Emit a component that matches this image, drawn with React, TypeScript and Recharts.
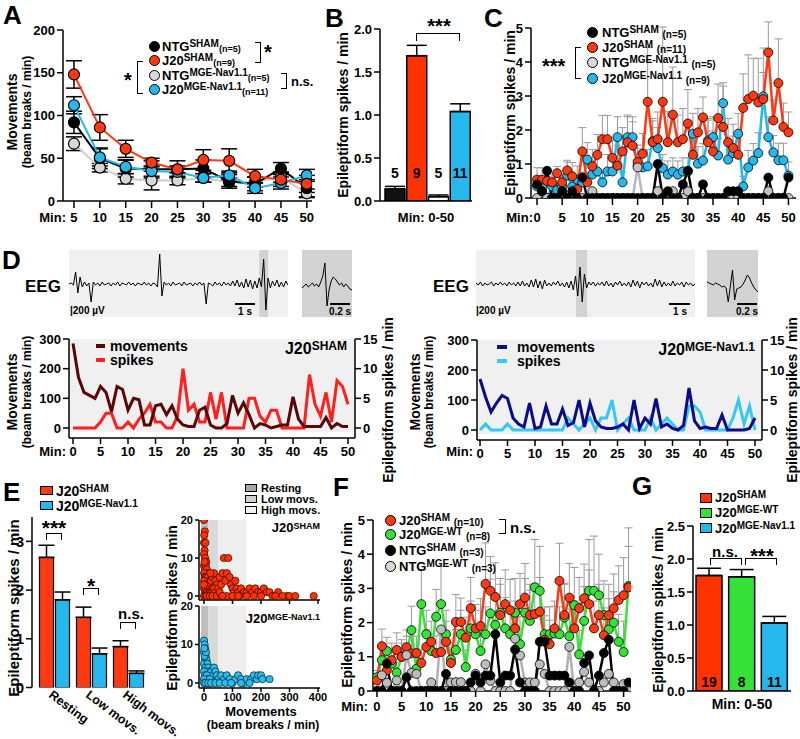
import React from 'react'
import {
  LineChart, Line, BarChart, Bar, ScatterChart, Scatter, XAxis, YAxis,
  ErrorBar, Cell, LabelList, ReferenceArea,
} from 'recharts'

const FONT = '"Liberation Sans", Arial, Helvetica, sans-serif'
const RED = '#ff3a12'
const BLUE = '#25b8ec'
const LGRAY = '#d8d8d8'
const GREEN = '#36e236'

const range = (n: number) => Array.from({ length: n }, (_, i) => i)

// ---------- A: movements per 5 min
const minA = [5, 10, 15, 20, 25, 30, 35, 40, 45, 50]
const ntgShamA = [92, 50, 38, 37, 37, 38, 23, 20, 38, 15]
const j20ShamA = [148, 86, 61, 45, 37, 48, 47, 29, 25, 20]
const ntgMgeA = [67, 39, 26, 24, 24, 27, 22, 22, 28, 9]
const j20MgeA = [112, 51, 40, 35, 34, 27, 30, 15, 21, 30]
const ntgShamErrA = [13, 12, 10, 10, 10, 10, 8, 8, 7, 10]
const j20ShamErrA = [16, 15, 10, 5, 4, 12, 14, 8, 8, 10]
const ntgMgeErrA = [8, 5, 6, 11, 5, 5, 5, 6, 6, 5]
const j20MgeErrA = [10, 10, 8, 6, 6, 5, 5, 6, 7, 7]

// ---------- B: spikes 0-50 min
const groupsB = ['NTG SHAM', 'J20 SHAM', 'NTG MGE-Nav1.1', 'J20 MGE-Nav1.1']
const spikesB = [0.14, 1.69, 0.05, 1.04]
const errB = [0.03, 0.12, 0.02, 0.09]
const nB = [5, 9, 5, 11]
const colorsB = ['#111111', '#ff3300', '#ffffff', BLUE]

// ---------- C: spikes per minute
const minC = range(51)
const ntgShamC = [0.4, 0.2, 0.8, 0, 0, 0.2, 0, 0.2, 0, 0.6, 0, 0, 0, 0, 0, 0, 0, 0, 0, 0, 0, 0, 0, 0, 1.0, 0, 0.2, 0, 0, 0.4, 0.8, 0, 0, 0.4, 0, 0, 0, 0, 0.2, 0.2, 0.2, 0, 0, 0, 0, 0, 0.6, 0, 0, 0, 0.6]
const j20ShamC = [0.54, 0.54, 0.5, 0.46, 0.73, 0.46, 0.81, 0.64, 0.26, 1.37, 0.46, 0.93, 1.27, 1.73, 1.73, 1.18, 0.95, 1.37, 1.64, 1.54, 1.06, 1.3, 2.83, 1.64, 1.73, 2.83, 1.64, 2.45, 1.64, 1.73, 2.19, 1.27, 1.93, 2.37, 1.64, 1.37, 2.35, 2.09, 1.64, 1.47, 1.27, 2.65, 2.91, 3.01, 2.81, 2.91, 4.28, 2.28, 3.38, 2.09, 1.93]
const ntgMgeC = [0, 0.2, 0, 0, 0, 0, 0, 0, 0, 0, 0, 0.2, 0, 0, 0, 0, 0, 0, 0, 0, 0.9, 0, 0, 0, 0.2, 0, 0, 0.2, 0, 0, 0.2, 0, 0, 0, 0, 0, 0, 0, 0, 0, 0, 0, 0, 0, 0, 0, 0.2, 0, 0, 0, 0]
const j20MgeC = [0.34, 0.34, 0, 0.34, 0.23, 0.34, 0.66, 0.34, 0.54, 0.46, 1.13, 0.69, 0.78, 0.46, 0.78, 0.78, 1.79, 0.46, 1.79, 1.79, 0.95, 0.9, 0.93, 1.67, 1.47, 0.88, 0.69, 0.78, 0.69, 0.78, 0.78, 1.89, 1.01, 1.1, 1.69, 1.79, 1.25, 2.79, 1.13, 1.32, 1.89, 0.34, 0.9, 1.1, 1.32, 2.99, 1.79, 1.34, 1.11, 1.11, 0.66]
const j20ShamErrC = [0.35, 0.35, 0.3, 0.25, 0.2, 0.2, 0.3, 0.4, 0.2, 0.7, 0.3, 0.5, 0.6, 0.7, 0.7, 0.5, 0.6, 0.7, 0.8, 0.7, 0.5, 0.6, 1.6, 0.7, 0.8, 2.2, 0.9, 1.4, 0.8, 0.9, 1.0, 0.6, 0.7, 0.6, 0.7, 0.6, 1.0, 1.2, 0.7, 0.7, 0.6, 1.0, 1.3, 1.1, 1.3, 1.5, 0.9, 0.6, 1.3, 0.7, 0.6]
const j20MgeErrC = [0.3, 0.3, 0.1, 0.3, 0.2, 0.3, 0.4, 0.3, 0.4, 0.3, 0.5, 0.4, 0.4, 0.3, 0.5, 0.4, 0.6, 0.3, 0.6, 0.6, 0.5, 0.5, 0.5, 0.6, 0.6, 0.4, 0.4, 0.4, 0.4, 0.4, 0.4, 0.6, 0.5, 0.5, 0.6, 0.6, 0.5, 0.6, 0.5, 0.5, 0.6, 0.3, 0.5, 0.5, 0.6, 0.7, 0.6, 0.5, 0.5, 0.5, 0.4]

// ---------- D: EEG traces and single-mouse time courses
const eegSham = [0, 1, -1, 12, -9, 7, -3, 2, -2, 1, -18, 2, -1, 1, -2, 2, -1, 0, 1, -2, 1, -1, 2, -2, 1, 0, -1, 2, -1, 1, -2, 1, 0, -1, 2, -1, 1, -2, 1, 0, -3, 30, -12, 2, -1, 1, -2, 2, -1, 0, 1, -2, 2, -1, 0, 1, -2, 1, -1, 2, -1, 1, -20, 1, 0, -2, 2, -1, 1, -2, 2, -1, 1, -2, 3, -2, 4, -3, 2, -4, 5, -3, 4, -5, 3, -4, 6, -3, 25, -26, 6, -4, 3, -2, 4, -3, 2, -3, 3, -1]
const eegShamZoom = [-4, -2, 0, -3, -1, 1, -2, 0, -3, 2, 8, 21, -22, -6, 3, 7, 5, 2, -1, 1, -3, 0, -2, -5, -6]
const eegMge = [1, -1, 2, -2, 1, -1, 0, 2, -2, 1, -1, 2, -1, 1, -2, 2, -1, 1, -2, 2, -2, 3, -2, 1, -3, 4, -3, 5, -4, 3, -5, 4, -2, 1, -2, 2, -1, 3, -2, 1, -3, 2, -4, 3, -6, 8, -12, 17, -18, 10, -4, 2, -1, 2, -2, 1, -1, 2, -2, 3, -2, 1, -3, 2, -1, 3, -2, 1, -2, 2, -3, 4, -2, 3, -4, 2, -1, 2, -2, 1, -3, 5, -2, 4, -3, 2, -2, 1, -2, 3, -2, 1, -1, 2, -3, 2, -1, 1, -2, 0]
const eegMgeZoom = [2, 1, 0, -1, 1, 0, -1, -3, -2, -4, -18, -2, 14, -16, -5, -4, -3, 0, 4, 9, 6, 1, -3, -6, -8]

const minD = range(51)
const shamMovD = [285, 170, 120, 110, 100, 140, 120, 55, 140, 130, 60, 100, 95, 10, 10, 75, 80, 45, 75, 30, 10, 5, 5, 60, 70, 10, 0, 0, 15, 110, 50, 85, 45, 0, 15, 10, 0, 5, 10, 10, 105, 30, 5, 5, 5, 5, 35, 0, 15, 5, 5]
const shamSpkD = [0, 0, 0, 0, 0, 1, 2.5, 2.5, 0, 0, 1, 0, 1.5, 2.5, 4, 1, 1, 0, 0, 2, 10, 3, 4, 1, 1, 6, 1.5, 6, 0, 0, 0, 0, 5, 5, 2, 1, 3, 3, 0, 0, 0, 0, 0, 9, 4, 2, 6, 1, 8, 7, 4]
const mgeMovD = [170, 110, 60, 90, 115, 105, 40, 20, 10, 90, 5, 10, 80, 20, 20, 70, 15, 25, 100, 10, 90, 30, 10, 5, 5, 10, 20, 0, 100, 5, 40, 20, 105, 10, 20, 5, 0, 15, 140, 30, 5, 10, 5, 5, 50, 0, 0, 0, 0, 5, 40]
const mgeSpkD = [0, 1, 0, 0, 0, 1, 0, 0, 0, 0, 0, 0, 0, 0, 0, 0, 2, 1, 0, 1, 2, 0, 2, 2, 5, 0, 1, 2, 0, 0, 0, 2, 0, 1, 2, 1, 0, 0, 4, 4, 3, 0, 0, 0, 0, 0, 2, 5, 1, 4, 0]

// ---------- E: spikes by activity state
const catsE = ['Resting', 'Low movs.', 'High movs.']
const j20ShamE = [2.67, 1.44, 0.84]
const j20MgeE = [1.8, 0.69, 0.29]
const j20ShamErrE = [0.25, 0.21, 0.12]
const j20MgeErrE = [0.16, 0.12, 0.05]

const shamMovE = [0, 3, 0, 5, 2, 0, 4, 8, 0, 3, 6, 10, 12, 0, 2, 5, 9, 14, 18, 0, 4, 7, 11, 16, 20, 25, 30, 35, 40, 45, 22, 28, 0, 3, 6, 10, 15, 20, 25, 30, 35, 40, 50, 55, 60, 65, 70, 85, 75, 80, 90, 95, 100, 105, 110, 115, 120, 130, 140, 150, 160, 170, 180, 190, 200, 210, 220, 230, 240, 260, 290, 300, 320, 385, 0, 5, 10, 20, 30, 45, 60, 80, 100, 125, 150, 175, 200, 250, 275, 0, 2, 1, 55, 65, 120]
const shamSpkE = [20, 17, 14, 14, 12, 11, 10, 9, 8, 7, 8, 7, 6, 6, 5, 5, 5, 5, 4, 4, 3, 3, 3, 3, 3, 4, 5, 6, 4, 3, 6, 2, 2, 1, 2, 1, 1, 1, 1, 1, 2, 1, 2, 5, 3, 6, 10, 10, 4, 6, 5, 3, 2, 1, 4, 2, 1, 2, 1, 1, 2, 1, 2, 1, 1, 2, 1, 1, 0, 1, 0, 0, 0, 0, 0, 0, 0, 0, 0, 0, 0, 0, 0, 0, 0, 0, 0, 0, 0, 3, 9, 16, 1, 0, 0]
const mgeMovE = [0, 2, 4, 0, 6, 3, 9, 0, 12, 5, 15, 20, 8, 0, 25, 30, 35, 40, 45, 50, 3, 10, 15, 0, 20, 60, 70, 80, 90, 100, 110, 120, 130, 140, 150, 165, 175, 185, 190, 200, 205, 230, 0, 5, 15, 25, 40, 55, 75, 95, 130, 160, 2, 7, 1]
const mgeSpkE = [11, 10, 9, 8, 7, 6, 6, 5, 5, 4, 4, 3, 3, 3, 3, 2, 4, 3, 2, 1, 2, 2, 1, 1, 1, 2, 1, 2, 1, 0, 1, 2, 1, 0, 1, 1, 2, 1, 2, 2, 1, 1, 0, 0, 0, 0, 0, 0, 0, 0, 0, 0, 7, 8, 9]

// ---------- F: MGE-WT control
const minF = range(52)
const j20ShamF = [0.31, 1.31, 0.6, 0.9, 1.2, 1.0, 1.28, 1.1, 1.11, 0.82, 1.29, 1.44, 1.11, 1.14, 1.44, 0.82, 2.02, 2.02, 1.56, 2.42, 1.83, 1.9, 3.13, 2.93, 2.75, 2.22, 2.54, 2.36, 1.83, 2.54, 2.73, 2.22, 2.25, 2.32, 1.5, 1.37, 1.83, 3.22, 2.22, 2.73, 1.83, 2.42, 2.71, 2.54, 1.83, 2.22, 1.63, 2.22, 2.42, 2.66, 2.8, 3.03]
const j20WtF = [0.4, 0.9, 1.17, 0.8, 0.54, 1.0, 1.1, 1.78, 0.65, 2.54, 1.66, 1.17, 2.17, 2.54, 1.66, 0.92, 1.2, 1.66, 0.7, 1.83, 1.66, 1.17, 1.66, 2.27, 1.93, 2.29, 1.83, 1.66, 2.29, 1.37, 2.29, 2.05, 3.03, 2.93, 1.66, 1.66, 1.68, 1.66, 2.15, 1.6, 2.51, 1.07, 2.05, 2.93, 2.93, 2.8, 2.22, 1.8, 2.0, 1.44, 1.14, 3.07]
const ntgShamF = [0, 0, 0.8, 0, 0, 0, 0.4, 0, 0, 0, 0, 0, 0, 0, 0.5, 0, 0, 0, 0, 0.25, 0.45, 0.25, 0.45, 0.45, 1.66, 0.25, 0.45, 0.45, 1.21, 0.25, 0, 0, 0, 1.44, 1.44, 0.45, 0.45, 0.45, 0.45, 0.25, 0, 0, 0.82, 1.04, 0, 0.45, 1.11, 1.5, 0, 0, 0, 0.25]
const ntgWtF = [0, 0.46, 0.24, 0, 0.31, 0, 1.05, 0.53, 0.5, 0, 0, 0.25, 0, 1.8, 0, 0.25, 0.26, 0.26, 0, 0, 0.5, 0, 0.78, 0.3, 0, 0, 0, 0, 1.53, 1.04, 0.25, 0.25, 0.25, 0.78, 0.5, 0, 0, 0, 0, 1.29, 0, 0.25, 0.56, 0.25, 0, 0, 0.25, 0.5, 0.25, 0, 0.2, 0]
const j20ShamErrF = [0.2, 0.5, 0.4, 0.5, 0.5, 0.4, 0.5, 0.5, 0.5, 0.4, 0.5, 0.6, 0.5, 0.5, 0.6, 0.4, 0.8, 0.7, 0.6, 0.9, 0.7, 0.8, 1.2, 1.0, 1.0, 0.9, 1.0, 0.9, 0.8, 0.9, 1.0, 0.9, 0.9, 1.0, 0.7, 0.7, 0.8, 1.1, 0.9, 1.0, 0.8, 0.9, 1.0, 1.0, 0.8, 0.9, 0.8, 0.9, 1.0, 1.0, 1.1, 1.2]
const j20WtErrF = [0.2, 0.4, 0.4, 0.4, 0.3, 0.5, 0.5, 0.7, 0.4, 1.0, 0.7, 0.5, 0.8, 1.1, 0.7, 0.5, 0.6, 0.7, 0.5, 0.8, 0.7, 0.6, 0.8, 1.0, 0.9, 1.0, 0.9, 0.8, 1.0, 0.8, 1.0, 0.9, 1.4, 1.3, 0.8, 0.8, 0.8, 0.8, 1.0, 0.8, 1.1, 0.7, 1.0, 1.5, 1.6, 1.2, 1.0, 0.9, 0.9, 0.8, 0.9, 1.7]

// ---------- G
const groupsG = ['J20 SHAM', 'J20 MGE-WT', 'J20 MGE-Nav1.1']
const spikesG = [1.75, 1.73, 1.03]
const errG = [0.11, 0.11, 0.1]
const nG = [19, 8, 11]
const colorsG = ['#ff3300', GREEN, BLUE]

// ---------- helpers
const AX = { stroke: '#000', strokeWidth: 1.5 }
const TK = { fontSize: 13, fontWeight: 700, fill: '#000', fontFamily: FONT }
const TKs = { fontSize: 11, fontWeight: 700, fill: '#000', fontFamily: FONT }

function frame(x0: number, y0: number, x1: number, y1: number, yl: number, yr: number, xh: number, pad = 10, padR = 10) {
  return {
    left: x0 - yl - pad,
    top: y0 - pad,
    width: x1 - x0 + yl + yr + pad + padR,
    height: y1 - y0 + xh + 2 * pad,
    margin: { top: pad, right: padR, bottom: pad, left: pad },
  }
}

function Txt({ x, y, size = 13, anchor = 'start', color = '#000', children }: any) {
  const tx = anchor === 'middle' ? '-50%' : anchor === 'end' ? '-100%' : '0'
  return (
    <div style={{ position: 'absolute', left: x, top: y, transform: `translate(${tx}, -50%)`, fontSize: size, fontWeight: 700, color, fontFamily: FONT, whiteSpace: 'nowrap', lineHeight: 1 }}>
      {children}
    </div>
  )
}

function VTxt({ x, y, size = 14, children }: any) {
  return (
    <div style={{ position: 'absolute', left: x, top: y, transform: 'translate(-50%, -50%) rotate(-90deg)', fontSize: size, fontWeight: 700, fontFamily: FONT, whiteSpace: 'nowrap', lineHeight: 1 }}>
      {children}
    </div>
  )
}

const Sup = ({ s = 9, children }: any) => <span style={{ fontSize: s, position: 'relative', top: -s * 0.36 }}>{children}</span>
const Sub = ({ s = 9, children }: any) => <span style={{ fontSize: s, position: 'relative', top: s * 0.1 }}>{children}</span>

const Dot = ({ x, y, fill, r = 5.5 }: any) => (
  <div style={{ position: 'absolute', left: x - r, top: y - r, width: 2 * r, height: 2 * r, borderRadius: '50%', background: fill, border: '1.2px solid #000', boxSizing: 'border-box' }} />
)
const Box = ({ x, y, fill, w = 12, h = 9 }: any) => (
  <div style={{ position: 'absolute', left: x, top: y, width: w, height: h, background: fill, border: '1.2px solid #000', boxSizing: 'border-box' }} />
)
// sides: which borders to draw
const Brk = ({ x, y, w, h, sides }: any) => (
  <div style={{
    position: 'absolute', left: x, top: y, width: w, height: h, boxSizing: 'border-box',
    borderTop: sides.includes('t') ? '1.5px solid #000' : 'none',
    borderBottom: sides.includes('b') ? '1.5px solid #000' : 'none',
    borderLeft: sides.includes('l') ? '1.5px solid #000' : 'none',
    borderRight: sides.includes('r') ? '1.5px solid #000' : 'none',
  }} />
)
const Bar2 = ({ x, y, w }: any) => <div style={{ position: 'absolute', left: x, top: y, width: w, height: 2, background: '#000' }} />

const at = (f: any) => ({ position: 'absolute' as const, left: f.left, top: f.top })

// ---------- Panel A
const fA = frame(63, 30, 312, 201, 45, 0, 30)
const dataA = minA.map((t, i) => ({
  t, ntgS: ntgShamA[i], j20S: j20ShamA[i], ntgM: ntgMgeA[i], j20M: j20MgeA[i],
  ntgSE: ntgShamErrA[i], j20SE: j20ShamErrA[i], ntgME: ntgMgeErrA[i], j20ME: j20MgeErrA[i],
}))

function PanelA() {
  const line = (key: string, err: string, stroke: string, fill: string) => (
    <Line dataKey={key} stroke={stroke} strokeWidth={2} type="linear" isAnimationActive={false}
      dot={{ r: 5.5, fill, stroke: '#000', strokeWidth: 1.2 }}>
      <ErrorBar dataKey={err} direction="y" width={8} stroke="#000" strokeWidth={1.5} />
    </Line>
  )
  return (
    <>
      <Txt x={3} y={15} size={26}>A</Txt>
      <VTxt x={12} y={112} size={14}>Movements</VTxt>
      <VTxt x={27} y={112} size={12}>(beam breaks / min)</VTxt>
      <Txt x={66} y={217} anchor="end">Min:</Txt>
      <div style={at(fA)}>
        <LineChart width={fA.width} height={fA.height} margin={fA.margin} data={dataA}>
          <XAxis type="number" dataKey="t" domain={[2.88, 51]} ticks={minA} allowDataOverflow height={30} interval={0}
            axisLine={AX} tickLine={AX} tickSize={7} tickMargin={5} tick={TK} />
          <YAxis type="number" domain={[0, 200]} ticks={[0, 50, 100, 150, 200]} allowDataOverflow width={45} interval={0}
            axisLine={AX} tickLine={AX} tickSize={6} tickMargin={2} tick={TK} />
          {line('ntgM', 'ntgME', '#cccccc', LGRAY)}
          {line('ntgS', 'ntgSE', '#000', '#000')}
          {line('j20M', 'j20ME', BLUE, BLUE)}
          {line('j20S', 'j20SE', RED, RED)}
        </LineChart>
      </div>
      <Dot x={154} y={46} fill="#000" />
      <Dot x={154} y={60} fill={RED} />
      <Dot x={154} y={75} fill={LGRAY} />
      <Dot x={154} y={89} fill={BLUE} />
      <Txt x={162} y={46}>NTG<Sup s={10}>SHAM</Sup><Sub>(n=5)</Sub></Txt>
      <Txt x={162} y={60}>J20<Sup s={10}>SHAM</Sup><Sub>(n=9)</Sub></Txt>
      <Txt x={162} y={75}>NTG<Sup s={10}>MGE-Nav1.1</Sup><Sub>(n=5)</Sub></Txt>
      <Txt x={162} y={89}>J20<Sup s={10}>MGE-Nav1.1</Sup><Sub>(n=11)</Sub></Txt>
      <Brk x={255} y={42} w={6} h={21} sides="tbr" />
      <Txt x={264} y={52} size={20}>*</Txt>
      <Brk x={137} y={61} w={6} h={33} sides="tbl" />
      <Txt x={124} y={80} size={20}>*</Txt>
      <Brk x={281} y={73} w={6} h={16} sides="tbr" />
      <Txt x={291} y={81}>n.s.</Txt>
    </>
  )
}

// ---------- Panel B
const fB = frame(380, 29, 472, 201, 40, 0, 4)
const dataB = groupsB.map((g, i) => ({ g, v: spikesB[i], e: [0, errB[i]], n: nB[i] }))
const nLabel = (up: number) => (p: any) => (
  <text x={p.x + p.width / 2} y={p.y + p.height - up} textAnchor="middle" dominantBaseline="central"
    style={{ fontSize: 14, fontWeight: 700, fontFamily: FONT }} fill="#000">{p.value}</text>
)

function PanelB() {
  return (
    <>
      <Txt x={325} y={18} size={26}>B</Txt>
      <VTxt x={343} y={115} size={14}>Epileptiform spikes / min</VTxt>
      <div style={at(fB)}>
        <BarChart width={fB.width} height={fB.height} margin={fB.margin} data={dataB} barSize={20}>
          <XAxis dataKey="g" axisLine={AX} tickLine={false} tick={false} height={4} padding={{ left: 4, right: 1 }} />
          <YAxis type="number" domain={[0, 2]} ticks={[0, 0.5, 1, 1.5, 2]} allowDataOverflow width={40} interval={0}
            tickFormatter={(v: number) => v.toFixed(1)} axisLine={AX} tickLine={AX} tickSize={6} tickMargin={2} tick={TK} />
          <Bar dataKey="v" stroke="#000" strokeWidth={1.5} isAnimationActive={false}>
            {dataB.map((_, i) => <Cell key={i} fill={colorsB[i]} />)}
            <ErrorBar dataKey="e" direction="y" width={10} stroke="#000" strokeWidth={1.5} />
            <LabelList dataKey="n" content={nLabel(28)} />
          </Bar>
        </BarChart>
      </div>
      <Brk x={416} y={33} w={44} h={8} sides="tlr" />
      <Txt x={439} y={26} size={20} anchor="middle">***</Txt>
      <Txt x={426} y={217} anchor="middle">Min: 0-50</Txt>
    </>
  )
}

// ---------- Panel C
const fC = frame(531, 28, 796, 198, 30, 0, 30)
const dataC = minC.map((t, i) => ({
  t, ntgS: ntgShamC[i], j20S: j20ShamC[i], ntgM: ntgMgeC[i], j20M: j20MgeC[i],
  j20SE: [0, j20ShamErrC[i]], j20ME: [0, j20MgeErrC[i]],
}))
const ticks50 = [0, 5, 10, 15, 20, 25, 30, 35, 40, 45, 50]

function PanelC() {
  const dot = (fill: string) => ({ r: 4.5, fill, stroke: '#000', strokeWidth: 0.8 })
  return (
    <>
      <Txt x={484} y={18} size={26}>C</Txt>
      <VTxt x={510} y={113} size={14}>Epileptiform spikes / min</VTxt>
      <Txt x={533} y={217} anchor="end">Min:</Txt>
      <div style={at(fC)}>
        <LineChart width={fC.width} height={fC.height} margin={fC.margin} data={dataC}>
          <XAxis type="number" dataKey="t" domain={[-1.2, 51.5]} ticks={ticks50} allowDataOverflow height={30} interval={0}
            axisLine={AX} tickLine={AX} tickSize={7} tickMargin={8} tick={TK} />
          <YAxis type="number" domain={[0, 5]} ticks={[0, 1, 2, 3, 4, 5]} allowDataOverflow width={30} interval={0}
            axisLine={AX} tickLine={AX} tickSize={6} tickMargin={2} tick={TK} />
          <Line dataKey="j20M" stroke={BLUE} strokeWidth={2.5} type="linear" isAnimationActive={false} dot={dot(BLUE)}>
            <ErrorBar dataKey="j20ME" direction="y" width={4} stroke="#9a9a9a" strokeWidth={1} />
          </Line>
          <Line dataKey="j20S" stroke={RED} strokeWidth={2.5} type="linear" isAnimationActive={false} dot={dot(RED)}>
            <ErrorBar dataKey="j20SE" direction="y" width={4} stroke="#9a9a9a" strokeWidth={1} />
          </Line>
          <Line dataKey="ntgM" stroke="#b8b8b8" strokeWidth={2.5} type="linear" isAnimationActive={false} dot={dot('#c4c4c4')} />
          <Line dataKey="ntgS" stroke="#000" strokeWidth={2.5} type="linear" isAnimationActive={false} dot={dot('#000')} />
        </LineChart>
      </div>
      <Dot x={592} y={32} fill="#000" />
      <Dot x={592} y={47} fill={RED} />
      <Dot x={592} y={62} fill={LGRAY} />
      <Dot x={592} y={78} fill={BLUE} />
      <Txt x={602} y={32}>NTG<Sup s={10}>SHAM</Sup> <Sub s={10}>(n=5)</Sub></Txt>
      <Txt x={602} y={47}>J20<Sup s={10}>SHAM</Sup> <Sub s={10}>(n=11)</Sub></Txt>
      <Txt x={602} y={62}>NTG<Sup s={10}>MGE-Nav1.1</Sup> <Sub s={10}>(n=5)</Sub></Txt>
      <Txt x={602} y={78}>J20<Sup s={10}>MGE-Nav1.1</Sup> <Sub s={10}>(n=9)</Sub></Txt>
      <Brk x={575} y={47} w={6} h={32} sides="tbl" />
      <Txt x={542} y={66} size={20}>***</Txt>
    </>
  )
}

// ---------- Panel D
function Trace({ x, y, w, h, vals, bg, band }: any) {
  const data = vals.map((v: number, i: number) => ({ i, v }))
  return (
    <div style={{ position: 'absolute', left: x, top: y, width: w, height: h, background: bg }}>
      <LineChart width={w} height={h} margin={{ top: 0, right: 0, bottom: 0, left: 0 }} data={data}>
        <XAxis type="number" dataKey="i" domain={[0, vals.length - 1]} hide />
        <YAxis type="number" domain={[-33, 34]} hide allowDataOverflow />
        {band && <ReferenceArea x1={band[0]} x2={band[1]} fill="#d2d2d2" fillOpacity={1} stroke="none" ifOverflow="visible" />}
        <Line dataKey="v" stroke="#000" strokeWidth={1} dot={false} type="linear" isAnimationActive={false} />
      </LineChart>
    </div>
  )
}

function Course({ x0, y0, x1, y1, xmin, mov, spk, movColor, spkColor }: any) {
  const f = frame(x0, y0, x1, y1, 40, 40, 30)
  const data = minD.map((t, i) => ({ t, mov: mov[i], spk: spk[i] }))
  const yMin = -300 * 10 / (y1 - y0 - 10)
  return (
    <div style={at(f)}>
      <LineChart width={f.width} height={f.height} margin={f.margin} data={data}>
        <XAxis type="number" dataKey="t" domain={[xmin, 51.27]} ticks={ticks50} allowDataOverflow height={30} interval={0}
          axisLine={AX} tickLine={AX} tickSize={6} tickMargin={3} tick={TK} />
        <YAxis yAxisId="l" type="number" domain={[yMin, 300]} ticks={[0, 100, 200, 300]} allowDataOverflow width={40} interval={0}
          axisLine={AX} tickLine={AX} tickSize={6} tickMargin={2} tick={TK} />
        <YAxis yAxisId="r" orientation="right" type="number" domain={[yMin / 20, 15]} ticks={[0, 5, 10, 15]} allowDataOverflow width={40} interval={0}
          axisLine={AX} tickLine={AX} tickSize={6} tickMargin={2} tick={TK} />
        <ReferenceArea yAxisId="l" x1={xmin} x2={51.27} y1={-13} y2={300} fill="#f0f0f0" fillOpacity={1} stroke="none" ifOverflow="visible" />
        <Line yAxisId="r" dataKey="spk" stroke={spkColor} strokeWidth={3} dot={false} type="linear" isAnimationActive={false} />
        <Line yAxisId="l" dataKey="mov" stroke={movColor} strokeWidth={3} dot={false} type="linear" isAnimationActive={false} />
      </LineChart>
    </div>
  )
}

function PanelD() {
  return (
    <>
      <Txt x={2} y={260} size={26}>D</Txt>
      {/* left */}
      <Txt x={25} y={286} size={17}>EEG</Txt>
      <Trace x={69} y={250} w={219} h={67} vals={eegSham} bg="#f0f0f0" band={[86, 90]} />
      <Trace x={302} y={250} w={50} h={67} vals={eegShamZoom} bg="#d2d2d2" />
      <Txt x={70} y={311} size={10}>|200 µV</Txt>
      <Bar2 x={235} y={303} w={20} />
      <Txt x={245} y={312} size={10} anchor="middle">1 s</Txt>
      <Bar2 x={330} y={303} w={20} />
      <Txt x={340} y={312} size={10} anchor="middle">0.2 s</Txt>
      <Course x0={69} y0={339} x1={355} y1={438} xmin={-0.73} mov={shamMovD} spk={shamSpkD} movColor="#5c0505" spkColor="#ff1f1f" />
      <VTxt x={12} y={392} size={14}>Movements</VTxt>
      <VTxt x={27} y={392} size={12}>(beam breaks / min)</VTxt>
      <VTxt x={388} y={400} size={14}>Epileptiform spikes / min</VTxt>
      <Txt x={66} y={451} anchor="end">Min:</Txt>
      <div style={{ position: 'absolute', left: 96, top: 344, width: 9, height: 4, background: '#5c0505' }} />
      <div style={{ position: 'absolute', left: 96, top: 358, width: 9, height: 4, background: '#ff1f1f' }} />
      <Txt x={110} y={345.5} size={14}>movements</Txt>
      <Txt x={110} y={360} size={14}>spikes</Txt>
      <Txt x={347} y={349} size={16} anchor="end">J20<Sup s={12}>SHAM</Sup></Txt>
      {/* right */}
      <Txt x={433} y={286} size={17}>EEG</Txt>
      <Trace x={476} y={250} w={219} h={67} vals={eegMge} bg="#f0f0f0" band={[45.2, 50.2]} />
      <Trace x={707} y={250} w={51} h={67} vals={eegMgeZoom} bg="#d2d2d2" />
      <Txt x={476} y={311} size={10}>|200 µV</Txt>
      <Bar2 x={669} y={303} w={21} />
      <Txt x={680} y={312} size={10} anchor="middle">1 s</Txt>
      <Bar2 x={737} y={303} w={20} />
      <Txt x={747} y={312} size={10} anchor="middle">0.2 s</Txt>
      <Course x0={477} y0={340} x1={762} y1={440} xmin={-0.55} mov={mgeMovD} spk={mgeSpkD} movColor="#0a0a8c" spkColor="#33c8f5" />
      <VTxt x={415} y={392} size={14}>Movements</VTxt>
      <VTxt x={429} y={392} size={12}>(beam breaks / min)</VTxt>
      <VTxt x={792} y={400} size={14}>Epileptiform spikes / min</VTxt>
      <Txt x={473} y={451} anchor="end">Min:</Txt>
      <div style={{ position: 'absolute', left: 497, top: 345, width: 10, height: 4, background: '#0a0a8c' }} />
      <div style={{ position: 'absolute', left: 497, top: 359, width: 10, height: 4, background: '#33c8f5' }} />
      <Txt x={517} y={346.5} size={14}>movements</Txt>
      <Txt x={517} y={361} size={14}>spikes</Txt>
      <Txt x={755} y={350} size={16} anchor="end">J20<Sup s={12}>MGE-Nav1.1</Sup></Txt>
    </>
  )
}

// ---------- Panel E
const fE = frame(32, 516.5, 146.5, 687, 28, 0, 50, 10, 60)
const dataE = catsE.map((c, i) => ({
  c, sham: j20ShamE[i], mge: j20MgeE[i], shamE: [0, j20ShamErrE[i]], mgeE: [0, j20MgeErrE[i]],
}))
const catTick = (p: any) => (
  <text x={p.x - 6} y={p.y + 9} transform={`rotate(37, ${p.x - 6}, ${p.y + 9})`} textAnchor="start"
    style={{ fontSize: 12.5, fontWeight: 700, fontFamily: FONT }} fill="#000">{p.payload.value}</text>
)
const dotShape = (fill: string, stroke: string) => (p: any) => (
  <circle cx={p.cx} cy={p.cy} r={3.6} fill={fill} stroke={stroke} strokeWidth={0.8} />
)
const shamPts = shamMovE.map((x, i) => ({ x, y: shamSpkE[i] }))
const mgePts = mgeMovE.map((x, i) => ({ x, y: mgeSpkE[i] }))
const fS1 = frame(199, 520, 320, 600, 25, 0, 8)
const fS2 = frame(199, 606, 320, 688, 25, 0, 20)

function Scat({ f, pts, fill, stroke, yMin, showX }: any) {
  return (
    <div style={at(f)}>
      <ScatterChart width={f.width} height={f.height} margin={f.margin}>
        <XAxis type="number" dataKey="x" domain={[-17.5, 407]} ticks={[0, 100, 200, 300, 400]} allowDataOverflow interval={0}
          height={showX ? 20 : 8} axisLine={AX} tickLine={AX} tickSize={4} tickMargin={1} tick={TKs}
          tickFormatter={(v: number) => (showX ? String(v) : '')} />
        <YAxis type="number" dataKey="y" domain={[yMin, 20]} ticks={[0, 10, 20]} allowDataOverflow width={25} interval={0}
          axisLine={AX} tickLine={AX} tickSize={4} tickMargin={2} tick={{ ...TK, fontSize: 11 }} />
        <ReferenceArea x1={-10} x2={15} fill="#bdbdbd" fillOpacity={1} stroke="none" ifOverflow="visible" />
        <ReferenceArea x1={15} x2={50} fill="#d9d9d9" fillOpacity={1} stroke="none" ifOverflow="visible" />
        <ReferenceArea x1={50} x2={150} fill="#eeeeee" fillOpacity={1} stroke="none" ifOverflow="visible" />
        <Scatter data={pts} isAnimationActive={false} shape={dotShape(fill, stroke)} />
      </ScatterChart>
    </div>
  )
}

function PanelE() {
  return (
    <>
      <Txt x={3} y={492} size={26}>E</Txt>
      <Box x={40} y={486} fill={RED} w={13} h={9} />
      <Box x={40} y={501} fill={BLUE} w={13} h={9} />
      <Txt x={56} y={491} size={14}>J20<Sup s={10}>SHAM</Sup></Txt>
      <Txt x={56} y={506} size={14}>J20<Sup s={10}>MGE-Nav1.1</Sup></Txt>
      <VTxt x={13} y={608} size={15}>Epileptiform spikes / min</VTxt>
      <div style={at(fE)}>
        <BarChart width={fE.width} height={fE.height} margin={fE.margin} data={dataE} barSize={14} barGap={2} barCategoryGap={3.5}>
          <XAxis dataKey="c" axisLine={false} tickLine={false} tickSize={0} tickMargin={0} height={50} interval={0}
            tick={catTick} padding={{ left: 3.5, right: 0 }} />
          <YAxis type="number" domain={[0, 3.5]} ticks={[0, 1, 2, 3]} allowDataOverflow width={28} interval={0}
            axisLine={AX} tickLine={AX} tickSize={6} tickMargin={2} tick={{ ...TK, fontSize: 15 }} />
          <Bar dataKey="sham" fill={RED} stroke="#000" strokeWidth={1.2} isAnimationActive={false}>
            <ErrorBar dataKey="shamE" direction="y" width={8} stroke="#000" strokeWidth={1.5} />
          </Bar>
          <Bar dataKey="mge" fill={BLUE} stroke="#000" strokeWidth={1.2} isAnimationActive={false}>
            <ErrorBar dataKey="mgeE" direction="y" width={8} stroke="#000" strokeWidth={1.5} />
          </Bar>
        </BarChart>
      </div>
      <Txt x={54} y={527} size={21} anchor="middle">***</Txt>
      <Brk x={46} y={533} w={16} h={7} sides="tlr" />
      <Txt x={91} y={585} size={21} anchor="middle">*</Txt>
      <Brk x={83} y={588} w={16} h={7} sides="tlr" />
      <Txt x={131} y={613} size={15} anchor="middle">n.s.</Txt>
      <Brk x={120} y={622} w={16} h={7} sides="tlr" />

      <Box x={245} y={484} fill="#a8a8a8" w={12} h={8} />
      <Box x={245} y={495} fill="#d0d0d0" w={12} h={8} />
      <Box x={245} y={506} fill="#f0f0f0" w={12} h={8} />
      <Txt x={261} y={488} size={11}>Resting</Txt>
      <Txt x={261} y={499} size={11}>Low movs.</Txt>
      <Txt x={261} y={510} size={11}>High movs.</Txt>
      <VTxt x={172} y={608} size={14}>Epileptiform spikes / min</VTxt>
      <Scat f={fS1} pts={shamPts} fill="#ff3300" stroke="#4a0a00" yMin={-1.05} showX={false} />
      <Scat f={fS2} pts={mgePts} fill="#2bbcf0" stroke="#05303f" yMin={-1.3} showX={true} />
      <Txt x={320} y={527} size={13} anchor="end">J20<Sup s={9}>SHAM</Sup></Txt>
      <Txt x={320} y={618} size={13} anchor="end">J20<Sup s={9}>MGE-Nav1.1</Sup></Txt>
      <Txt x={261} y={711} size={13}  anchor="middle">Movements</Txt>
      <Txt x={263} y={725} size={12} anchor="middle">(beam breaks / min)</Txt>
    </>
  )
}

// ---------- Panel F
const fF = frame(373, 520, 631, 691, 30, 0, 30)
const dataF = minF.map((t, i) => ({
  t, j20S: j20ShamF[i], j20W: j20WtF[i], ntgS: ntgShamF[i], ntgW: ntgWtF[i],
  j20SE: [0, j20ShamErrF[i]], j20WE: [0, j20WtErrF[i]],
}))

function PanelF() {
  const dot = (fill: string) => ({ r: 4.5, fill, stroke: '#000', strokeWidth: 0.8 })
  return (
    <>
      <Txt x={333} y={487} size={26}>F</Txt>
      <VTxt x={347} y={605} size={14}>Epileptiform spikes / min</VTxt>
      <Txt x={368} y={706} anchor="end">Min:</Txt>
      <div style={at(fF)}>
        <LineChart width={fF.width} height={fF.height} margin={fF.margin} data={dataF}>
          <XAxis type="number" dataKey="t" domain={[-0.8, 51.5]} ticks={ticks50} allowDataOverflow height={30} interval={0}
            axisLine={AX} tickLine={AX} tickSize={6} tickMargin={5} tick={TK} />
          <YAxis type="number" domain={[0, 5]} ticks={[0, 1, 2, 3, 4, 5]} allowDataOverflow width={30} interval={0}
            axisLine={AX} tickLine={AX} tickSize={6} tickMargin={2} tick={TK} />
          <Line dataKey="j20W" stroke={GREEN} strokeWidth={2.5} type="linear" isAnimationActive={false} dot={dot(GREEN)}>
            <ErrorBar dataKey="j20WE" direction="y" width={4} stroke="#9a9a9a" strokeWidth={1} />
          </Line>
          <Line dataKey="j20S" stroke={RED} strokeWidth={2.5} type="linear" isAnimationActive={false} dot={dot(RED)}>
            <ErrorBar dataKey="j20SE" direction="y" width={4} stroke="#9a9a9a" strokeWidth={1} />
          </Line>
          <Line dataKey="ntgW" stroke="#b0b0b0" strokeWidth={2.5} type="linear" isAnimationActive={false} dot={dot('#bdbdbd')} />
          <Line dataKey="ntgS" stroke="#000" strokeWidth={2.5} type="linear" isAnimationActive={false} dot={dot('#000')} />
        </LineChart>
      </div>
      <Dot x={390} y={520} fill={RED} />
      <Dot x={390} y={534} fill={GREEN} />
      <Dot x={390} y={550} fill="#000" />
      <Dot x={390} y={566} fill={LGRAY} />
      <Txt x={399} y={520}>J20<Sup s={10}>SHAM</Sup> <Sub s={10}>(n=10)</Sub></Txt>
      <Txt x={399} y={534}>J20<Sup s={10}>MGE-WT</Sup> <Sub s={10}>(n=8)</Sub></Txt>
      <Txt x={399} y={550}>NTG<Sup s={10}>SHAM</Sup> <Sub s={10}>(n=3)</Sub></Txt>
      <Txt x={399} y={566}>NTG<Sup s={10}>MGE-WT</Sup> <Sub s={10}>(n=3)</Sub></Txt>
      <Brk x={499} y={519} w={7} h={15} sides="tbr" />
      <Txt x={510} y={527} size={15}>n.s.</Txt>
    </>
  )
}

// ---------- Panel G
const fG = frame(693, 526, 791, 691, 35, 0, 4)
const dataG = groupsG.map((g, i) => ({ g, v: spikesG[i], e: [0, errG[i]], n: nG[i] }))

function PanelG() {
  return (
    <>
      <Txt x={632} y={486} size={26}>G</Txt>
      <VTxt x={658} y={610} size={14}>Epileptiform spikes / min</VTxt>
      <div style={at(fG)}>
        <BarChart width={fG.width} height={fG.height} margin={fG.margin} data={dataG} barSize={26}>
          <XAxis dataKey="g" axisLine={AX} tickLine={false} tick={false} height={4} />
          <YAxis type="number" domain={[0, 2.5]} ticks={[0, 0.5, 1, 1.5, 2, 2.5]} allowDataOverflow width={35} interval={0}
            tickFormatter={(v: number) => v.toFixed(1)} axisLine={AX} tickLine={AX} tickSize={6} tickMargin={2} tick={TK} />
          <Bar dataKey="v" stroke="#000" strokeWidth={1.5} isAnimationActive={false}>
            {dataG.map((_, i) => <Cell key={i} fill={colorsG[i]} />)}
            <ErrorBar dataKey="e" direction="y" width={12} stroke="#000" strokeWidth={1.5} />
            <LabelList dataKey="n" content={nLabel(9)} />
          </Bar>
        </BarChart>
      </div>
      <Box x={700} y={493} fill="#ff3300" w={12} h={10} />
      <Box x={700} y={508} fill={GREEN} w={12} h={10} />
      <Box x={700} y={523} fill={BLUE} w={12} h={10} />
      <Txt x={715} y={497}>J20<Sup s={10}>SHAM</Sup></Txt>
      <Txt x={715} y={512}>J20<Sup s={10}>MGE-WT</Sup></Txt>
      <Txt x={715} y={528}>J20<Sup s={10}>MGE-Nav1.1</Sup></Txt>
      <Txt x={725} y={551} size={15} anchor="middle">n.s.</Txt>
      <Brk x={710} y={558} w={32} h={7} sides="tlr" />
      <Txt x={762} y={556} size={20} anchor="middle">***</Txt>
      <Brk x={745} y={558} w={32} h={7} sides="tlr" />
      <Txt x={742} y={704} size={14} anchor="middle">Min: 0-50</Txt>
    </>
  )
}

export default function App() {
  return (
    <div style={{ position: 'absolute', left: 0, top: 0, width: 800, height: 739, background: '#fff', overflow: 'hidden', fontFamily: FONT }}>
      <PanelA />
      <PanelB />
      <PanelC />
      <PanelD />
      <PanelE />
      <PanelF />
      <PanelG />
    </div>
  )
}
